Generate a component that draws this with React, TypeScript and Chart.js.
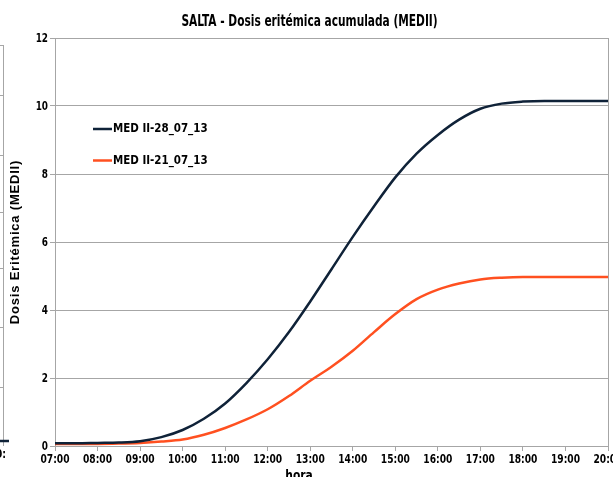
import React, { useEffect, useRef } from "react";
import { Chart, registerables } from "chart.js";

Chart.register(...registerables);

const hours = [7, 7.5, 8, 8.5, 9, 9.5, 10, 10.5, 11, 11.5, 12, 12.5, 13, 13.5, 14, 14.5, 15, 15.5, 16, 16.5, 17, 17.5, 18, 18.5, 19, 19.5, 20];
const med28 = [0.08, 0.08, 0.09, 0.1, 0.14, 0.26, 0.47, 0.8, 1.25, 1.85, 2.55, 3.35, 4.25, 5.2, 6.15, 7.05, 7.9, 8.6, 9.15, 9.6, 9.92, 10.07, 10.13, 10.15, 10.15, 10.15, 10.15];
const med21 = [0.06, 0.06, 0.06, 0.07, 0.09, 0.13, 0.19, 0.33, 0.53, 0.78, 1.08, 1.47, 1.92, 2.33, 2.8, 3.35, 3.88, 4.32, 4.6, 4.78, 4.9, 4.95, 4.97, 4.97, 4.97, 4.97, 4.97];
const seriesLabels = ["MED II-28_07_13", "MED II-21_07_13"];
const chartTitle = "SALTA - Dosis eritémica acumulada (MEDII)";
const yTitle = "Dosis Eritémica (MEDII)";
const xTitle = "hora";

const NARROW = "'Liberation Sans Narrow', 'Arial Narrow', 'DejaVu Sans Condensed', sans-serif";
const WIDE = "'Liberation Sans', Arial, sans-serif";
const NAVY = "#0f2238";
const ORANGE = "#ff5020";
const GRID = "#a6a6a6";
const CLEAR = "rgba(0,0,0,0)";

function squeezedText(ctx: any, text: string, x: number, y: number, sx: number, align: string) {
  ctx.save();
  ctx.translate(x, y);
  ctx.scale(sx, 1);
  ctx.textAlign = align;
  ctx.fillText(text, 0, 0);
  ctx.restore();
}

function pad2(n: number) {
  return (n < 10 ? "0" : "") + n;
}
function hourLabel(v: any) {
  return pad2(Number(v)) + ":00";
}

const decorPlugin = {
  id: "decor",
  afterDraw(chart: any) {
    const { ctx, chartArea } = chart;
    ctx.save();
    // right border of plot
    ctx.strokeStyle = GRID;
    ctx.lineWidth = 1;
    ctx.beginPath();
    ctx.moveTo(Math.round(chartArea.right) + 0.5, chartArea.top);
    ctx.lineTo(Math.round(chartArea.right) + 0.5, chartArea.bottom);
    ctx.stroke();

    // left remnant of neighbouring chart
    ctx.beginPath();
    ctx.moveTo(0, 45.5);
    ctx.lineTo(3.5, 45.5);
    ctx.moveTo(3.5, 45);
    ctx.lineTo(3.5, 446);
    [95, 155, 212, 268, 327, 387].forEach((yy) => {
      ctx.moveTo(0, yy + 0.5);
      ctx.lineTo(3.5, yy + 0.5);
    });
    ctx.stroke();
    ctx.strokeStyle = NAVY;
    ctx.lineWidth = 2.5;
    ctx.beginPath();
    ctx.moveTo(0, 441);
    ctx.lineTo(9, 441);
    ctx.stroke();
    ctx.fillStyle = "#000";
    ctx.font = "bold 13px " + NARROW;
    ctx.textBaseline = "middle";
    squeezedText(ctx, "0:", 6, 455, 0.8, "right");

    // tick labels
    const xs = chart.scales.x;
    const ys = chart.scales.y;
    ctx.font = "bold 13px " + NARROW;
    ctx.textBaseline = "middle";
    xs.ticks.forEach((t: any) => {
      squeezedText(ctx, hourLabel(t.value), xs.getPixelForValue(t.value), 460, 0.78, "center");
    });
    ys.ticks.forEach((t: any) => {
      squeezedText(ctx, String(t.value), chartArea.left - 7, ys.getPixelForValue(t.value) + 0.5, 0.76, "right");
    });

    // title
    ctx.font = "bold 16px " + NARROW;
    squeezedText(ctx, chartTitle, chartArea.left + 254.5, 22, 0.737, "center");

    // x title
    ctx.font = "bold 14px " + NARROW;
    squeezedText(ctx, xTitle, chartArea.left + 244, 476, 0.85, "center");

    // y title
    ctx.save();
    ctx.translate(15, (chartArea.top + chartArea.bottom) / 2);
    ctx.rotate(-Math.PI / 2);
    ctx.font = "bold 13px " + WIDE;
    try {
      ctx.letterSpacing = "0.8px";
    } catch (e) {}
    ctx.textAlign = "center";
    ctx.fillText(yTitle, 0, 0);
    ctx.restore();

    // legend
    const ds = chart.data.datasets;
    ds.forEach((d: any, i: number) => {
      const yy = chartArea.top + 91 + i * 31.5;
      const x0 = chartArea.left + 38;
      ctx.strokeStyle = d.borderColor;
      ctx.lineWidth = 2.5;
      ctx.beginPath();
      ctx.moveTo(x0, yy);
      ctx.lineTo(x0 + 19, yy);
      ctx.stroke();
      ctx.fillStyle = "#000";
      ctx.font = "bold 13px " + NARROW;
      ctx.textBaseline = "middle";
      squeezedText(ctx, d.label, x0 + 20, yy, 0.88, "left");
    });
    ctx.restore();
  },
};

export default function App() {
  const ref = useRef<HTMLCanvasElement | null>(null);
  useEffect(() => {
    document.body.style.margin = "0";
    if (!ref.current) return;
    const chart = new Chart(ref.current, {
      type: "line",
      data: {
        datasets: [
          {
            label: seriesLabels[0],
            data: hours.map((h, i) => ({ x: h, y: med28[i] })),
            borderColor: NAVY,
            backgroundColor: NAVY,
            borderWidth: 2.5,
            pointRadius: 0,
            cubicInterpolationMode: "monotone",
          },
          {
            label: seriesLabels[1],
            data: hours.map((h, i) => ({ x: h, y: med21[i] })),
            borderColor: ORANGE,
            backgroundColor: ORANGE,
            borderWidth: 2.5,
            pointRadius: 0,
            cubicInterpolationMode: "monotone",
          },
        ].reverse() as any,
      },
      options: {
        animation: false,
        responsive: false,
        layout: { padding: { left: 0, right: 5, top: 38, bottom: 0 } },
        plugins: { legend: { display: false }, title: { display: false }, tooltip: { enabled: false } },
        scales: {
          x: {
            type: "linear",
            min: 7,
            max: 20,
            afterFit: (s: any) => {
              s.height = 31;
              s.paddingLeft = 0;
              s.paddingRight = 0;
            },
            ticks: {
              stepSize: 1,
              autoSkip: false,
              maxRotation: 0,
              padding: 2,
              color: CLEAR,
              font: { family: NARROW, size: 13, weight: "bold" },
              callback: hourLabel,
            },
            grid: { drawOnChartArea: false, drawTicks: true, tickLength: 5, color: GRID },
            border: { display: true, color: GRID },
          },
          y: {
            min: 0,
            max: 12,
            afterFit: (s: any) => {
              s.width = 55;
              s.paddingTop = 0;
              s.paddingBottom = 0;
            },
            ticks: {
              stepSize: 2,
              padding: 2,
              color: CLEAR,
              font: { family: NARROW, size: 13, weight: "bold" },
            },
            grid: { color: GRID, tickLength: 5 },
            border: { display: true, color: GRID },
          },
        },
      },
      plugins: [decorPlugin],
    });
    chart.data.datasets.reverse();
    chart.update();
    return () => chart.destroy();
  }, []);
  return <canvas ref={ref} width={613} height={477} style={{ display: "block" }} />;
}
